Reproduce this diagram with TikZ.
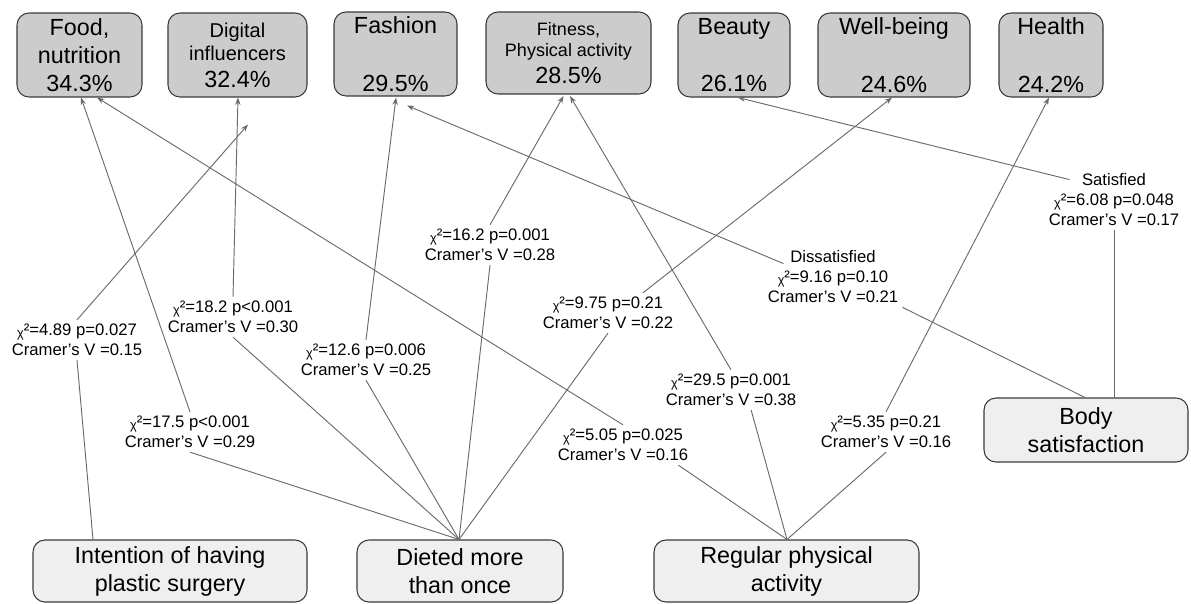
\documentclass[tikz,border=0pt]{standalone}
\usepackage{fontspec}
\setmainfont{Liberation Sans}
\usetikzlibrary{arrows.meta,calc}

\definecolor{topfill}{HTML}{CCCCCC}
\definecolor{basefill}{HTML}{EFEFEF}
\definecolor{boxline}{HTML}{3A3A3A}
\definecolor{linkgray}{HTML}{6A6A6A}

\newcommand{\bigpct}[1]{{\fontsize{17.5}{21}\selectfont #1}}
\newcommand{\chitwo}{\raisebox{-1.2pt}{\fontsize{9.5}{10}\selectfont χ}²}

\begin{document}
\begin{tikzpicture}[x=0.75pt, y=-0.75pt, >={Stealth[length=5.5pt,width=4pt]},
    topic/.style={draw=boxline, fill=topfill, line width=0.8pt, rounded corners=9pt, align=center, inner sep=0pt, minimum height=63pt, font=\fontsize{17.5}{21}\selectfont},
    factor/.style={draw=boxline, fill=basefill, line width=0.8pt, rounded corners=9pt, align=center, inner sep=0pt, minimum height=46.5pt, font=\fontsize{17.5}{21}\selectfont},
    stat/.style={align=center, inner sep=3pt, font=\fontsize{12.5}{15}\selectfont},
    link/.style={draw=linkgray, line width=0.7pt}]

    % Page frame
    \useasboundingbox (0,0) rectangle (1191,603);

    % Topics (top row)
    \node[topic, minimum width=93.75pt] (food) at (79.5,55) {Food,\\nutrition\\34.3\%};
    \node[topic, minimum width=104.25pt, font=\fontsize{15}{17.5}\selectfont] (digital) at (237.5,55) {Digital\\influencers\\[2.5pt]\bigpct{32.4\%}};
    \node[topic, minimum width=92.25pt] (fashion) at (395.5,54) {Fashion\\[22pt]29.5\%};
    \node[topic, minimum width=123.75pt, minimum height=61.5pt, font=\fontsize{13.5}{16}\selectfont] (fitness) at (568.5,53) {Fitness,\\Physical activity\\[4pt]\bigpct{28.5\%}};
    \node[topic, minimum width=84pt] (beauty) at (734,55) {Beauty\\[22pt]26.1\%};
    \node[topic, minimum width=114pt] (wellbeing) at (894,55) {Well-being\\[22pt]24.6\%};
    \node[topic, minimum width=78pt] (health) at (1051,55) {Health\\[22pt]24.2\%};

    % Factors (bottom row and right)
    \node[factor, minimum width=205.5pt] (intention) at (170,571) {Intention of having\\plastic surgery};
    \node[factor, minimum width=154.5pt] (dieted) at (460,571) {Dieted more\\than once};
    \node[factor, minimum width=198.75pt] (regular) at (786.5,571) {Regular physical\\activity};
    \node[factor, minimum width=153pt, minimum height=48pt] (body) at (1086,430) {Body\\satisfaction};

    % Arrow tips under the topics
    \coordinate (foodA) at ($(food.south)+(1.5,0)$);
    \coordinate (foodB) at ($(food.south)+(17.5,0)$);
    \coordinate (digitalA) at ($(digital.south)+(0.5,0)$);
    \coordinate (digitalB) at ($(digital.south)+(10.5,27)$);
    \coordinate (fashionA) at ($(fashion.south)+(0.5,1)$);
    \coordinate (fashionB) at ($(fashion.south)+(11.5,9)$);
    \coordinate (fitnessA) at ($(fitness.south)+(-5,1.5)$);
    \coordinate (fitnessB) at ($(fitness.south)+(1.5,1.5)$);
    \coordinate (beautyA) at ($(beauty.south)+(4,0)$);
    \coordinate (wellbeingA) at ($(wellbeing.south)+(-2,0)$);
    \coordinate (healthA) at ($(health.south)+(-2,0)$);

    % Start points on the factors
    \coordinate (intentionS) at ($(intention.north)+(-77,0)$);
    \coordinate (dietedS) at ($(dieted.north)+(-1,0)$);
    \coordinate (regularS) at ($(regular.north)+(0.5,0)$);
    \coordinate (bodyA) at ($(body.north)+(-1,0)$);
    \coordinate (bodyB) at ($(body.north)+(28,0)$);

    % Test results
    \node[stat] (s489) at (77,340) {\chitwo=4.89 p=0.027\\Cramer's V =0.15};
    \node[stat] (s175) at (190,432) {\chitwo=17.5 p<0.001\\Cramer's V =0.29};
    \node[stat] (s182) at (233,317) {\chitwo=18.2 p<0.001\\Cramer's V =0.30};
    \node[stat] (s126) at (366,360) {\chitwo=12.6 p=0.006\\Cramer's V =0.25};
    \node[stat] (s162) at (490,245) {\chitwo=16.2 p=0.001\\Cramer's V =0.28};
    \node[stat] (s975) at (608,313) {\chitwo=9.75 p=0.21\\Cramer's V =0.22};
    \node[stat] (s505) at (623,445) {\chitwo=5.05 p=0.025\\Cramer's V =0.16};
    \node[stat] (s295) at (731,390) {\chitwo=29.5 p=0.001\\Cramer's V =0.38};
    \node[stat] (s535) at (886,432) {\chitwo=5.35 p=0.21\\Cramer's V =0.16};
    \node[stat] (s916) at (833,277) {Dissatisfied\\\chitwo=9.16 p=0.10\\Cramer's V =0.21};
    \node[stat] (s608) at (1114,200) {Satisfied\\\chitwo=6.08 p=0.048\\Cramer's V =0.17};

    % Intention of having plastic surgery
    \draw[link] (intentionS) -- (s489.south);
    \draw[link, ->] (s489.north) -- (digitalB);

    % Dieted more than once
    \draw[link] (dietedS) -- (s175.south);
    \draw[link, ->] (s175.north) -- (foodA);
    \draw[link] (dietedS) -- (s182.south);
    \draw[link, ->] (s182.north) -- (digitalA);
    \draw[link] (dietedS) -- (s126.south);
    \draw[link, ->] (s126.north) -- (fashionA);
    \draw[link] (dietedS) -- (s162.south);
    \draw[link, ->] (s162.north) -- (fitnessA);
    \draw[link] (dietedS) -- (s975.south);
    \draw[link, ->] (s975.30) -- (wellbeingA);

    % Regular physical activity
    \draw[link] (regularS) -- (s505.-20);
    \draw[link, ->] (s505.north) -- (foodB);
    \draw[link] (regularS) -- (s295.-45);
    \draw[link, ->] (s295.north) -- (fitnessB);
    \draw[link] (regularS) -- (s535.south);
    \draw[link, ->] (s535.north) -- (healthA);

    % Body satisfaction
    \draw[link] (bodyA) -- (s916.south east);
    \draw[link, ->] ($(s916.north west)+(20,17)$) -- (fashionB);
    \draw[link] (bodyB) -- (s608.south);
    \draw[link, ->] ($(s608.north west)+(25,10)$) -- (beautyA);
\end{tikzpicture}
\end{document}
